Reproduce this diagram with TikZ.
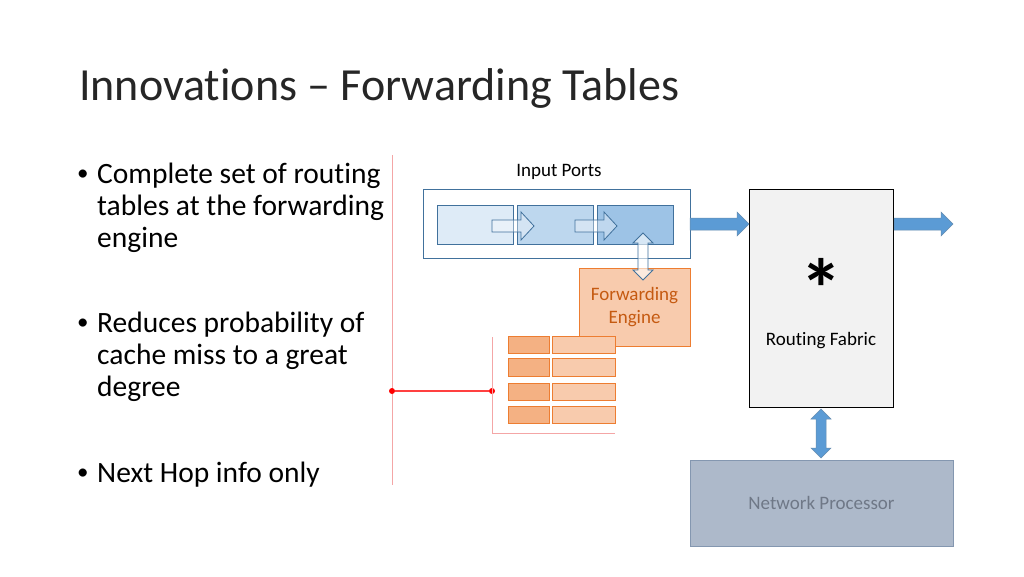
\documentclass[tikz,border=0pt]{standalone}
\usepackage{fontspec}
\setmainfont[Ligatures={NoCommon}]{Carlito}
\usetikzlibrary{shapes.arrows}
\definecolor{titlec}{HTML}{262626}
\definecolor{bluestroke}{HTML}{41719C}
\definecolor{b1}{HTML}{DEEBF7}
\definecolor{b2}{HTML}{BDD7EE}
\definecolor{b3}{HTML}{9DC3E6}
\definecolor{bluearrow}{HTML}{5B9BD5}
\definecolor{orstroke}{HTML}{ED7D31}
\definecolor{orlight}{HTML}{F8CBAD}
\definecolor{ormid}{HTML}{F4B183}
\definecolor{ortext}{HTML}{C55A11}
\definecolor{pinkline}{HTML}{F4A6A6}
\definecolor{fabric}{HTML}{F2F2F2}
\definecolor{npfill}{HTML}{ADB9CA}
\definecolor{npstroke}{HTML}{8497B0}
\definecolor{nptext}{HTML}{6F7887}
\tikzset{
  x=1pt,y=-1pt,
  title/.style={anchor=base west,inner sep=0pt,font=\fontsize{46}{50}\selectfont,text=titlec},
  bullet/.style={anchor=base west,inner sep=0pt,font=\fontsize{29.5}{32}\selectfont,text=black},
  bulletmark/.style={anchor=base west,inner sep=0pt,font=\fontsize{23}{25}\selectfont,text=black},
  small/.style={font=\fontsize{19}{23}\selectfont},
  bluebox/.style={draw=bluestroke,line width=0.8pt},
  hollow/.style={draw=bluestroke,fill=white,fill opacity=0.35,line width=0.8pt},
  solidarrow/.style={fill=bluearrow,draw=bluestroke!80,line width=0.5pt},
  cellL/.style={draw=orstroke,fill=ormid,line width=0.8pt},
  cellR/.style={draw=orstroke,fill=orlight,line width=0.8pt},
  pink/.style={draw=pinkline,line width=0.9pt},
  reddot/.style={circle,fill=red,inner sep=0pt,minimum size=6pt},
}
\begin{document}
\begin{tikzpicture}
\useasboundingbox (0,0) rectangle (1024,576);
\fill[white] (0,0) rectangle (1024,576);
% title
\node[title] (title) at (79,100) {Innovations – Forwarding Tables};
% bullets
\node[bulletmark] (b1m) at (77,180) {•};
\node[bullet] (b1a) at (97,183) {Complete set of routing};
\node[bullet] (b1b) at (97,215) {tables at the forwarding};
\node[bullet] (b1c) at (97,247) {engine};
\node[bulletmark] (b2m) at (77,329) {•};
\node[bullet] (b2a) at (97,332) {Reduces probability of};
\node[bullet] (b2b) at (97,364) {cache miss to a great};
\node[bullet] (b2c) at (97,396) {degree};
\node[bulletmark] (b3m) at (77,479) {•};
\node[bullet] (b3) at (97,482) {Next Hop info only};
% pink lines
\coordinate (pl1) at (392,155);
\coordinate (pl2) at (392,485);
\draw[pink] (pl1) -- (pl2);
\node[reddot] (d1) at (392,391) {};
\node[reddot] (d2) at (492,391) {};
\draw[red!75,line width=1.2pt] (d1) -- (d2);
\coordinate (br1) at (492,337);
\coordinate (br2) at (492,433);
\coordinate (br3) at (615,433);
\draw[pink] (br1) -- (br2) -- (br3);
% input ports
\node[small,inner sep=0pt] (ip) at (559,172) {Input Ports};
\draw[bluebox] (423,189) rectangle (690,258);
\draw[bluebox,fill=b1] (437,205) rectangle (513,244);
\draw[bluebox,fill=b2] (517,205) rectangle (593,244);
\draw[bluebox,fill=b3] (597,205) rectangle (673,244);
% hollow arrows
\draw[hollow] (492,220) -- (521,220) -- (521,212) -- (534,226) -- (521,240) -- (521,232) -- (492,232) -- cycle;
\draw[hollow] (575,220) -- (604,220) -- (604,212) -- (617,226) -- (604,240) -- (604,232) -- (575,232) -- cycle;
% forwarding engine
\node[draw=orstroke,fill=orlight,line width=0.8pt,minimum width=111pt,minimum height=78pt,inner sep=0pt,small,text=ortext,align=center] (fe) at (634.5,307) {Forwarding\\Engine};
% vertical hollow double arrow
\draw[hollow,fill opacity=0.6] (643,233) -- (653,243) -- (648,243) -- (648,270) -- (653,270) -- (643,280) -- (633,270) -- (638,270) -- (638,243) -- (633,243) -- cycle;
% table rows
\foreach \y/\h in {336/17,358/18,383/17,406/17}{
  \draw[cellL] (508,\y) rectangle (549,\y+\h);
  \draw[cellR] (552,\y) rectangle (615,\y+\h);
}
% routing fabric
\node[draw=black,fill=fabric,line width=0.8pt,minimum width=144pt,minimum height=218pt,inner sep=0pt] (rf) at (821,298) {};
\node[font=\fontsize{42}{42}\bfseries\selectfont,inner sep=0pt,anchor=base,text depth=0pt] (star) at (821,318) {\scalebox{2}{*}};
\node[small,inner sep=0pt] (rft) at (821,341) {Routing Fabric};
% blue arrows
\draw[solidarrow] (690,218) -- (737,218) -- (737,212) -- (749,224) -- (737,236) -- (737,230) -- (690,230) -- cycle;
\draw[solidarrow] (894,218) -- (941,218) -- (941,212) -- (953,224) -- (941,236) -- (941,230) -- (894,230) -- cycle;
% network processor
\node[draw=npstroke,fill=npfill,line width=0.8pt,minimum width=263pt,minimum height=86pt,inner sep=0pt,small,text=nptext] (np) at (821.5,503) {Network Processor};
\draw[solidarrow] (821,409) -- (831,419) -- (826,419) -- (826,448) -- (831,448) -- (821,458) -- (811,448) -- (816,448) -- (816,419) -- (811,419) -- cycle;
\end{tikzpicture}
\end{document}
